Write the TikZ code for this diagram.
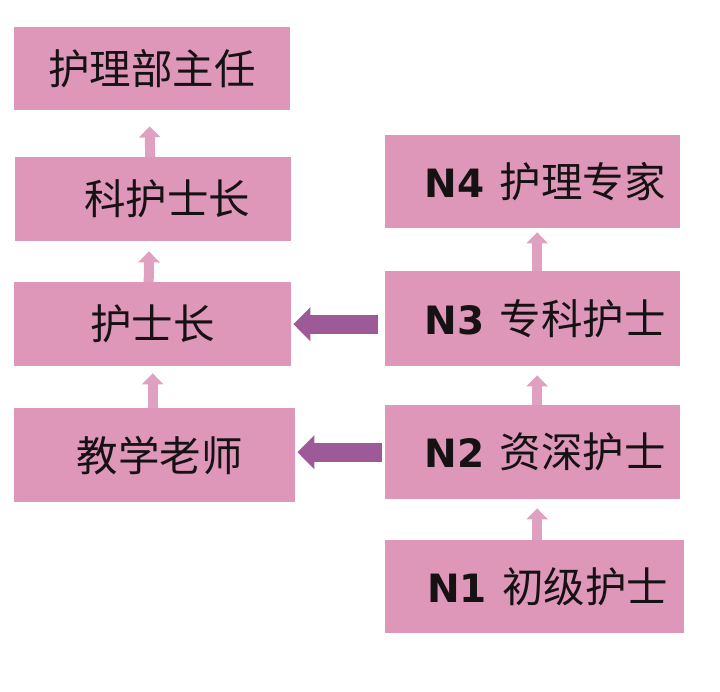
\documentclass[tikz,border=0pt]{standalone}
\usepackage{fontspec}
\newfontfamily\cjk{Noto Sans CJK SC}
\newfontfamily\lat{DejaVu Sans}
\usetikzlibrary{arrows.meta,calc}
\definecolor{boxpink}{RGB}{222,151,184}
\definecolor{uppink}{RGB}{224,160,192}
\definecolor{arrpurple}{RGB}{158,90,152}
\definecolor{txtblack}{RGB}{22,18,20}
\newcommand{\cn}[1]{{\cjk\fontsize{41.5}{41.5}\selectfont #1}}
\newcommand{\lv}[2]{{\lat\bfseries\fontsize{39}{39}\selectfont #1}\hspace{15pt}\cn{#2}}
\begin{document}
\begin{tikzpicture}[x=1pt,y=1pt,
  box/.style={fill=boxpink, draw=none, inner sep=0pt, anchor=north west, text=txtblack},
  uparr/.style={draw=uppink, line width=10pt, -{Triangle[width=21pt,length=11pt]}},
  sidearr/.style={draw=arrpurple, line width=19pt, -{Triangle[width=33pt,length=17pt]}}]
\useasboundingbox (0,0) rectangle (720,692);
\fill[white] (0,0) rectangle (720,692);
% left column
\node[box, minimum width=276pt, minimum height=83pt] (b1) at (14,665) {\raisebox{-2pt}{\cn{护理部主任}}};
\node[box, minimum width=276pt, minimum height=84pt] (b2) at (15,535) {\hspace*{28pt}\raisebox{-2pt}{\cn{科护士长}}};
\node[box, minimum width=277pt, minimum height=84pt] (b3) at (14,410) {\raisebox{-2pt}{\cn{护士长}}};
\node[box, minimum width=281pt, minimum height=94pt] (b4) at (14,284) {\hspace*{10pt}\raisebox{-2pt}{\cn{教学老师}}};
% right column
\node[box, minimum width=295pt, minimum height=93pt] (r4) at (385,557) {\hspace*{25pt}\lv{N4}{护理专家}};
\node[box, minimum width=295pt, minimum height=95pt] (r3) at (385,421) {\hspace*{25pt}\lv{N3}{专科护士}};
\node[box, minimum width=295pt, minimum height=94pt] (r2) at (385,287) {\hspace*{25pt}\lv{N2}{资深护士}};
\node[box, minimum width=299pt, minimum height=93pt] (r1) at (385,152) {\hspace*{26pt}\lv{N1}{初级护士}};
% up arrows left
\draw[uparr, shorten >=16pt] ([xshift=-3pt]b2.north) -- ([xshift=-3pt]b1.south);
\draw[uparr, shorten >=10pt] ([xshift=-4pt]b3.north) -- ([xshift=-4pt]b2.south |- b2.south);
\draw[uparr, shorten >=7pt] ([xshift=-2pt]b4.north |- b4.north) -- ([xshift=-2pt]b4.north |- b3.south);
% up arrows right
\draw[uparr, shorten >=4pt] ([xshift=4.5pt]r3.north) -- ([xshift=4.5pt]r4.south);
\draw[uparr, shorten >=9pt] ([xshift=4.5pt]r2.north) -- ([xshift=4.5pt]r3.south);
\draw[uparr, shorten >=9pt] ([xshift=4.5pt]r1.north -| r2.north) -- ([xshift=4.5pt]r2.south);
% side arrows
\draw[sidearr, shorten >=2pt] ([xshift=-7pt]r3.west |- b3.east) -- (b3.east);
\draw[sidearr, shorten >=2pt] ([xshift=-3pt]r2.west) -- (b4.east |- r2.west);
\end{tikzpicture}
\end{document}
